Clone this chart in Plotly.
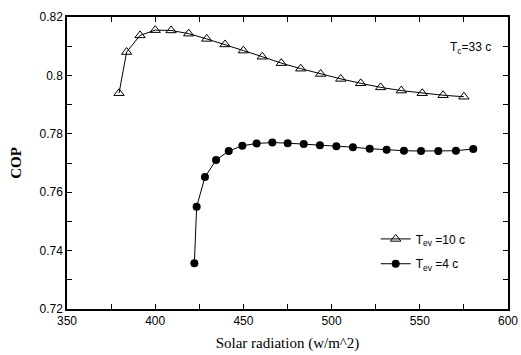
import plotly.graph_objects as go

x_tev10 = [379.5, 383.8, 391.4, 400.0, 409.0, 419.0, 429.2, 439.6, 450.0, 460.7,
           471.5, 482.5, 493.8, 505.2, 516.5, 527.8, 539.5, 551.4, 563.2, 575.0]
cop_tev10 = [0.7939, 0.8080, 0.8137, 0.8155, 0.8154, 0.8143, 0.8125, 0.8106, 0.8085, 0.8064,
             0.8042, 0.8023, 0.8005, 0.7988, 0.7973, 0.7959, 0.7948, 0.7939, 0.7932, 0.7927]

x_tev4 = [422.2, 423.5, 428.2, 434.5, 441.7, 449.4, 457.5, 466.4, 475.1, 484.2,
          493.4, 502.7, 512.1, 521.6, 531.2, 541.0, 550.7, 560.5, 570.5, 580.3]
cop_tev4 = [0.7357, 0.7550, 0.7652, 0.7710, 0.7741, 0.7759, 0.7767, 0.7770, 0.7768, 0.7765,
            0.7761, 0.7757, 0.7754, 0.7749, 0.7745, 0.7742, 0.7741, 0.7741, 0.7742, 0.7748]

fig = go.Figure()
fig.add_trace(go.Scatter(
    x=x_tev10, y=cop_tev10, mode="lines+markers", name="T<sub>ev</sub> =10 c",
    line=dict(color="black", width=1), legend="legend",
    marker=dict(symbol="triangle-up-open", size=9, color="black", line=dict(width=1, color="black"))))
fig.add_trace(go.Scatter(
    x=x_tev4, y=cop_tev4, mode="lines+markers", name="T<sub>ev</sub> =4 c",
    line=dict(color="black", width=1), legend="legend2",
    marker=dict(symbol="circle", size=8, color="black")))

axis_common = dict(
    showline=True, linecolor="black", linewidth=1.5, mirror="ticks",
    ticks="inside", ticklen=5, tickwidth=1, tickcolor="black",
    showgrid=False, zeroline=False, automargin=False,
    tickfont=dict(family="Liberation Sans, Arial", size=12, color="black"),
)

fig.update_xaxes(
    range=[350, 600], tickmode="linear", tick0=350, dtick=50,
    minor=dict(ticks="inside", ticklen=5, tickcolor="black", dtick=25, tick0=350, showgrid=False),
    title=dict(text="Solar radiation (w/m^2)",
               font=dict(family="Liberation Serif, Times New Roman", size=15, color="black"),
               standoff=10),
    **axis_common)
fig.update_yaxes(
    range=[0.72, 0.82], tickmode="linear", tick0=0.72, dtick=0.02,
    minor=dict(ticks="inside", ticklen=5, tickcolor="black", dtick=0.01, tick0=0.72, showgrid=False),
    title=dict(text="<b>COP</b>",
               font=dict(family="Liberation Serif, Times New Roman", size=15, color="black"),
               standoff=14),
    **axis_common)

fig.add_annotation(x=0.863, y=0.895, xref="paper", yref="paper", xanchor="left", yanchor="middle",
                   text="T<sub>c</sub>=33 c", showarrow=False,
                   font=dict(family="Liberation Sans, Arial", size=12, color="black"))

legend_common = dict(xanchor="left", yanchor="middle", bgcolor="rgba(0,0,0,0)", borderwidth=0,
                     font=dict(family="Liberation Sans, Arial", size=12, color="black"))

fig.update_layout(
    width=521, height=355,
    margin=dict(l=67, r=13, t=17, b=46, autoexpand=False),
    paper_bgcolor="white", plot_bgcolor="white",
    showlegend=True,
    legend=dict(x=0.70, y=0.24, **legend_common),
    legend2=dict(x=0.70, y=0.155, **legend_common),
)

fig.write_html("out.html")
